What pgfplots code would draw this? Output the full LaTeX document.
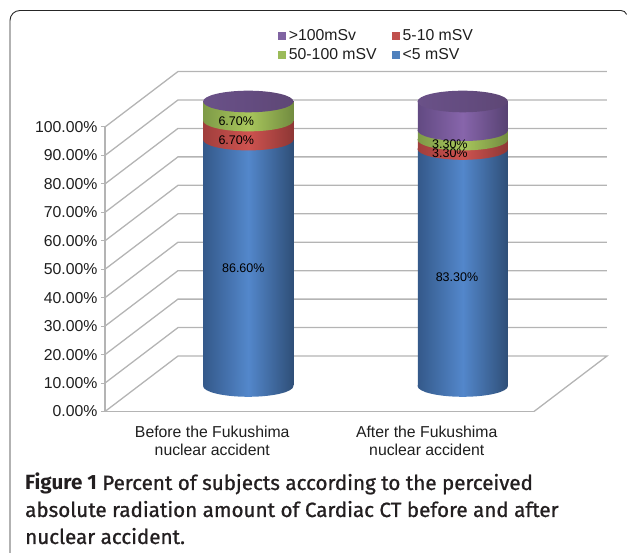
\documentclass[border=0pt]{standalone}
\usepackage{fontspec}
\setmainfont{Liberation Sans}
\newfontfamily\capfont[FakeBold=1.0]{Fira Sans}
\newfontfamily\capbold{Fira Sans Bold}
\usepackage{pgfplots}
\pgfplotsset{compat=1.18}
\definecolor{gridc}{HTML}{B4B4B4}
\definecolor{txtc}{HTML}{1E1E1E}
\definecolor{capc}{HTML}{231F20}
\definecolor{lgblue}{HTML}{4F81BD}
\definecolor{lgred}{HTML}{C0504D}
\definecolor{lggreen}{HTML}{9BBB59}
\definecolor{lgpurple}{HTML}{8064A2}
\definecolor{bluel}{HTML}{34598A}\definecolor{bluem}{HTML}{5387CB}\definecolor{bluer}{HTML}{2F4F78}
\definecolor{redl}{HTML}{A03E3C}\definecolor{redm}{HTML}{CE5350}\definecolor{redr}{HTML}{8E3735}
\definecolor{grnl}{HTML}{7E9A47}\definecolor{grnm}{HTML}{A8C65C}\definecolor{grnr}{HTML}{728C40}
\definecolor{purl}{HTML}{624A82}\definecolor{purm}{HTML}{8765AB}\definecolor{purr}{HTML}{574272}
\definecolor{capl}{HTML}{6A5188}\definecolor{capm}{HTML}{644C80}\definecolor{capr}{HTML}{5E4775}
\newcommand\defcap[4]{\pgfdeclareplotmark{#1}{\path[draw=none,rotate=4.4,left color=#2,right color=#3,middle color=#4] (0,0) ellipse (45.2pt and 10.8pt);}}
\defcap{capblue}{bluel}{bluer}{bluem}
\defcap{capred}{redl}{redr}{redm}
\defcap{capgreen}{grnl}{grnr}{grnm}
\defcap{cappurple}{purl}{purr}{purm}
\defcap{captop}{capl}{capr}{capm}
\pgfplotsset{
  cylaxis/.style={
    at={(105pt,141.5pt)}, anchor=origin,
    scale only axis, width=429pt, height=284.5pt,
    xmin=0, xmax=2, ymin=0, ymax=100, clip=false,
  },
  bars/.style={ybar,stack plots=y,bar width=90pt,bar shift=0pt,draw=none,xshift=36pt,yshift=25.5pt,forget plot},
  capmark/.style={stack plots=false,only marks,mark options={draw=none},xshift=36pt,yshift=25.5pt,forget plot},
  wall/.style={stack plots=false,no marks,draw=gridc,line width=1.3pt,forget plot},
  vals/.style={stack plots=false,only marks,mark=none,xshift=36pt,yshift=25.5pt,forget plot,
     point meta=explicit symbolic,nodes near coords,
     nodes near coords align={center},
     every node near coord/.append style={font=\fontsize{12.5}{14}\selectfont,text=black,inner sep=0pt}},
  bluebar/.style={bars,left color=bluel,right color=bluer,middle color=bluem},
  redbar/.style={bars,left color=redl,right color=redr,middle color=redm},
  grnbar/.style={bars,left color=grnl,right color=grnr,middle color=grnm},
  purbar/.style={bars,left color=purl,right color=purr,middle color=purm},
}
\begin{document}
\begin{tikzpicture}[x=1pt,y=1pt]
\useasboundingbox (0,0) rectangle (627,553);
\begin{axis}[
  cylaxis,
  axis x line=bottom, axis y line=left,
  axis line style={-,draw=gridc,line width=1.2pt},
  tick style={draw=gridc,line width=1pt},
  tick align=outside,
  major tick length=4pt,
  ytick={0,10,...,100},
  yticklabel={\pgfmathprintnumber[fixed,fixed zerofill,precision=2,assume math mode=true]{\tick}\%},
  yticklabel style={font=\fontsize{15.8}{18}\selectfont,text=txtc,xshift=0pt},
  xtick={0.5,1.5},
  xticklabels={{Before the Fukushima\\nuclear accident},{After the Fukushima\\nuclear accident}},
  x tick style={draw=none},
  xticklabel style={font=\fontsize{15.8}{18}\selectfont,text=txtc,align=center,yshift=-7.5pt},
  extra x ticks={0,1,2},
  extra x tick labels={},
  extra x tick style={tick style={draw=gridc,line width=1pt}},
  legend columns=2,
  legend cell align=left,
  legend image code/.code={\fill[#1,draw=none] (0pt,-4pt) rectangle (8pt,4pt);},
  legend style={draw=none,fill=none,inner sep=0pt,outer sep=0pt,at={(0.403,1.346)},anchor=north west,
    font=\fontsize{15.8}{17}\selectfont,text=txtc,row sep=4.5pt,
    /tikz/every even column/.append style={column sep=12pt},
    nodes={inner xsep=3pt,inner ysep=1pt}},
]
% back wall grid and floor
\addplot[wall] coordinates {(0,0)(0.3403,19.5)(2.3403,19.5)(2,0)};
\addplot[wall] coordinates {(0,10)(0.3403,29.5)(2.3403,29.5)};
\addplot[wall] coordinates {(0,20)(0.3403,39.5)(2.3403,39.5)};
\addplot[wall] coordinates {(0,30)(0.3403,49.5)(2.3403,49.5)};
\addplot[wall] coordinates {(0,40)(0.3403,59.5)(2.3403,59.5)};
\addplot[wall] coordinates {(0,50)(0.3403,69.5)(2.3403,69.5)};
\addplot[wall] coordinates {(0,60)(0.3403,79.5)(2.3403,79.5)};
\addplot[wall] coordinates {(0,70)(0.3403,89.5)(2.3403,89.5)};
\addplot[wall] coordinates {(0,80)(0.3403,99.5)(2.3403,99.5)};
\addplot[wall] coordinates {(0,90)(0.3403,109.5)(2.3403,109.5)};
\addplot[wall] coordinates {(0,100)(0.3403,119.5)(2.3403,119.5)};
% cylinder: before the accident
\addplot[bluebar] coordinates {(0.5,86.6)};
\addplot[capmark,mark=capblue] coordinates {(0.5,0)};
\addplot[redbar] coordinates {(0.5,6.7)};
\addplot[capmark,mark=capred] coordinates {(0.5,86.6)};
\addplot[grnbar] coordinates {(0.5,6.7)};
\addplot[capmark,mark=capgreen] coordinates {(0.5,93.3)};
\addplot[capmark,mark=captop] coordinates {(0.5,100)};
\addplot[vals] coordinates {(0.477,41.5)[86.60\%] (0.444,86.5)[6.70\%] (0.444,93.1)[6.70\%]};
% legend
\addlegendimage{fill=lgpurple}\addlegendentry{>100mSv}
\addlegendimage{fill=lgred}\addlegendentry{5-10 mSV}
\addlegendimage{fill=lggreen}\addlegendentry{50-100 mSV}
\addlegendimage{fill=lgblue}\addlegendentry{<5 mSV}
\end{axis}
\begin{axis}[cylaxis,hide axis]
% cylinder: after the accident
\addplot[bluebar] coordinates {(1.5,83.3)};
\addplot[capmark,mark=capblue] coordinates {(1.5,0)};
\addplot[redbar] coordinates {(1.5,3.3)};
\addplot[capmark,mark=capred] coordinates {(1.5,83.3)};
\addplot[grnbar] coordinates {(1.5,3.3)};
\addplot[capmark,mark=capgreen] coordinates {(1.5,86.6)};
\addplot[purbar] coordinates {(1.5,10.1)};
\addplot[capmark,mark=cappurple] coordinates {(1.5,89.9)};
\addplot[capmark,mark=captop] coordinates {(1.5,100)};
\addplot[vals] coordinates {(1.473,38.3)[83.30\%] (1.44,81.7)[3.30\%] (1.44,84.9)[3.30\%]};
\end{axis}
% frame
\draw[line width=0.9pt,draw=black!85] (10,0) -- (10,532.5) arc[start angle=180,end angle=90,radius=10] -- (621,542.5) arc[start angle=90,end angle=20,radius=6];
% caption
\node[anchor=base west,inner sep=0pt,text=capc,font=\fontsize{20.6}{27}\selectfont\capfont] at (25,63) {{\capbold Figure 1} Percent of subjects according to the perceived};
\node[anchor=base west,inner sep=0pt,text=capc,font=\fontsize{20.6}{27}\selectfont\capfont] at (25,36) {absolute radiation amount of Cardiac CT before and after};
\node[anchor=base west,inner sep=0pt,text=capc,font=\fontsize{20.6}{27}\selectfont\capfont] at (25,9) {nuclear accident.};
\end{tikzpicture}
\end{document}
